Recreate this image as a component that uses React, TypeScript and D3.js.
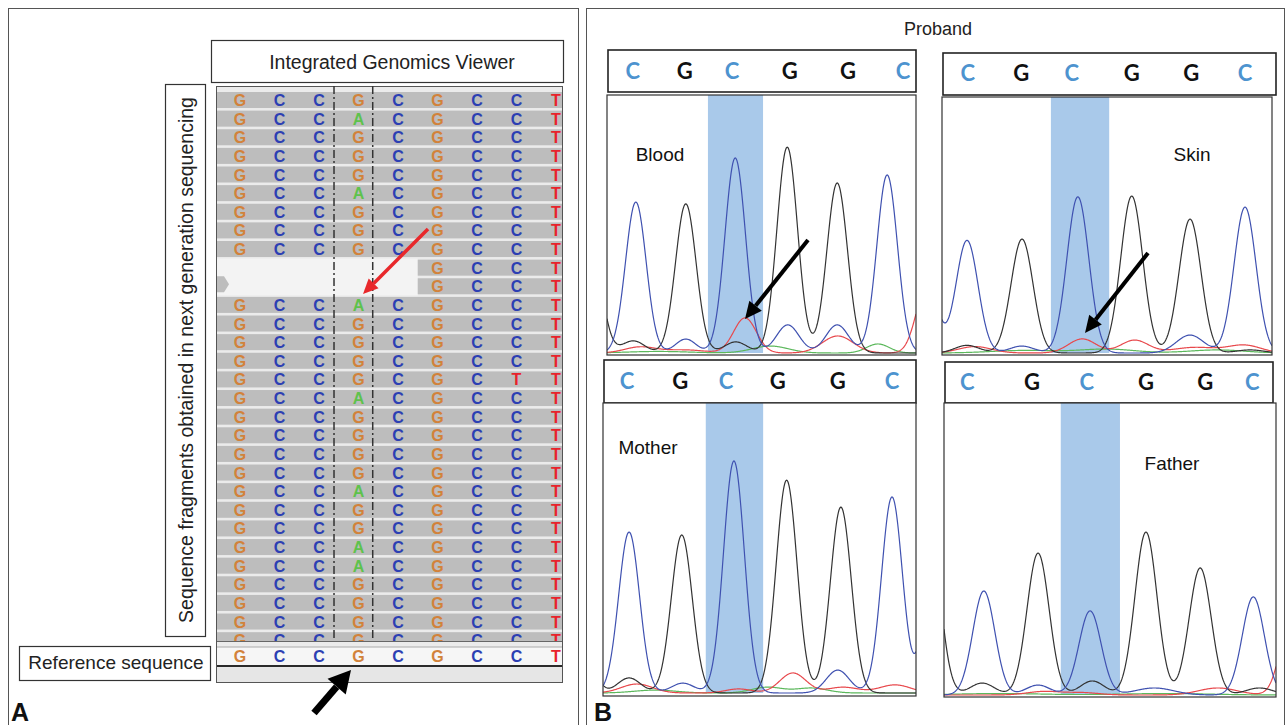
import React from 'react';
import * as d3 from 'd3';

// ---- IGV read pile (9 columns, column 3 is the variant site) ----
const refSeq = ['G', 'C', 'C', 'G', 'C', 'G', 'C', 'C', 'T'];
const siteBases = ['G', 'A', 'G', 'G', 'G', 'A', 'G', 'G', 'G', '', '', 'A', 'G', 'G', 'G', 'G',
  'A', 'G', 'G', 'G', 'G', 'A', 'G', 'G', 'A', 'A', 'G', 'G', 'G', 'G'];
const readStart = [0, 0, 0, 0, 0, 0, 0, 0, 0, 5, 5, 0, 0, 0, 0, 0, 0, 0, 0, 0, 0, 0, 0, 0, 0, 0, 0, 0, 0, 0];
const mismatchRows = [15];
const mismatchCols = [7];
const mismatchBases = ['T'];

// ---- Sanger traces: [position in base units, relative height, width?] ----
const headerBases = ['C', 'G', 'C', 'G', 'G', 'C'];

const bloodC = [[0.56, 0.585], [2.49, 0.756], [5.44, 0.69], [1.53, 0.054], [3.51, 0.109, 0.22], [4.47, 0.109, 0.22]];
const bloodG = [[-0.3, 0.4], [1.53, 0.578], [3.5, 0.798], [4.47, 0.659], [0.51, 0.047, 0.22], [2.5, 0.043, 0.22]];
const bloodT = [[0.64, 0.023, 0.3], [1.5, 0.012, 0.4], [2.68, 0.136, 0.22], [4.48, 0.066, 0.3], [6.2, 0.25]];
const bloodA = [[1.0, 0.006, 0.6], [3.17, 0.027, 0.35], [5.26, 0.035, 0.22]];

const skinC = [[-0.35, 0.45], [0.455, 0.44], [2.47, 0.61], [5.51, 0.57], [1.45, 0.027, 0.22], [4.51, 0.07, 0.25]];
const skinG = [[1.455, 0.445], [3.45, 0.613], [4.51, 0.523], [0.455, 0.03, 0.22], [5.6, 0.012, 0.25]];
const skinT = [[0.6, 0.025, 0.3], [2.55, 0.055, 0.25], [3.5, 0.05, 0.25], [4.6, 0.022, 0.4], [5.5, 0.03, 0.3]];
const skinA = [[1.5, 0.01, 0.6], [3.0, 0.015, 0.5], [5.0, 0.012, 0.5]];

const motherC = [[0.5, 0.555], [2.51, 0.8], [5.54, 0.676], [1.53, 0.034, 0.22], [4.5, 0.079, 0.22], [6.4, 0.7]];
const motherG = [[-0.45, 0.3], [1.51, 0.545], [3.52, 0.734], [4.56, 0.641], [0.5, 0.052, 0.22]];
const motherT = [[0.65, 0.031, 0.3], [2.6, 0.014, 0.25], [3.64, 0.069, 0.25], [4.6, 0.02, 0.3], [5.6, 0.028, 0.3]];
const motherA = [[1.0, 0.01, 0.4], [3.15, 0.02, 0.3], [4.0, 0.017, 0.3]];

const fatherC = [[0.72, 0.356], [2.64, 0.288], [5.59, 0.336], [1.7, 0.034, 0.22], [3.8, 0.024, 0.35]];
const fatherG = [[-0.28, 0.6], [1.7, 0.486], [3.65, 0.558], [4.63, 0.435], [0.69, 0.041, 0.22], [2.68, 0.048, 0.22], [5.7, 0.024, 0.25]];
const fatherT = [[1.8, 0.012, 0.3], [2.5, 0.008, 0.3], [4.95, 0.024, 0.35], [6.3, 0.3]];
const fatherA = [[1.0, 0.005, 0.8], [4.0, 0.005, 0.8]];

const FONT = '"Liberation Sans", Arial, sans-serif';
const baseColor: Record<string, string> = { G: '#d2823a', C: '#2c3fb3', A: '#5ec24c', T: '#e8222b' };
const traceColor = { C: '#3f51b0', G: '#333333', T: '#e8484c', A: '#5cb85c' };
const SIGMA = 0.2;

function head(x1: number, y1: number, x2: number, y2: number, len: number, half: number) {
  const a = Math.atan2(y2 - y1, x2 - x1);
  const bx = x2 - len * Math.cos(a), by = y2 - len * Math.sin(a);
  const px = -Math.sin(a) * half, py = Math.cos(a) * half;
  return { pts: `${x2},${y2} ${bx + px},${by + py} ${bx - px},${by - py}`, bx, by };
}

function Arrow({ x1, y1, x2, y2, color, w, len, half }: any) {
  const h = head(x1, y1, x2, y2, len, half);
  return (
    <g>
      <line x1={x1} y1={y1} x2={h.bx} y2={h.by} stroke={color} strokeWidth={w} />
      <polygon points={h.pts} fill={color} />
    </g>
  );
}

const panels = [
  { id: 'blood', label: 'Blood', lx: 660, ly: 161, box: [607, 95, 916, 355], base: 353, header: [608, 50, 916, 92], letterY: 79,
    letterAt: [0.5, 1.51, 2.43, 3.55, 4.68, 5.75], hl: [1.96, 3.03], arrow: [808, 240, 745, 319],
    C: bloodC, G: bloodG, T: bloodT, A: bloodA },
  { id: 'skin', label: 'Skin', lx: 1192, ly: 161, box: [942, 97, 1272, 355], base: 353, header: [943, 53, 1276, 95], letterY: 81,
    letterAt: [0.47, 1.44, 2.36, 3.45, 4.53, 5.51], hl: [1.98, 3.04], arrow: [1148, 253, 1085, 333],
    C: skinC, G: skinG, T: skinT, A: skinA },
  { id: 'mother', label: 'Mother', lx: 648, ly: 454, box: [603, 403, 916, 696], base: 693, header: [604, 360, 916, 403], letterY: 389,
    letterAt: [0.46, 1.48, 2.36, 3.35, 4.5, 5.54], hl: [1.97, 3.07], arrow: null,
    C: motherC, G: motherG, T: motherT, A: motherA },
  { id: 'father', label: 'Father', lx: 1172, ly: 470, box: [944, 403, 1276, 697], base: 695, header: [945, 362, 1273, 403], letterY: 390,
    letterAt: [0.42, 1.59, 2.58, 3.65, 4.72, 5.57], hl: [2.11, 3.18], arrow: null,
    C: fatherC, G: fatherG, T: fatherT, A: fatherA },
];

function Chromatogram({ p }: any) {
  const [bx0, by0, bx1, by1] = p.box;
  const x = d3.scaleLinear().domain([0, 6]).range([bx0, bx1]);
  const y = d3.scaleLinear().domain([0, 1]).range([p.base, by0]);
  const line = d3.line<[number, number]>().x((d) => x(d[0])).y((d) => y(d[1]));
  const samples = d3.range(0, 6.0001, 0.01);
  const build = (peaks: number[][]) =>
    samples.map((u) => [u, d3.sum(peaks, (k) => k[1] * Math.exp(-((u - k[0]) ** 2) / (2 * (k[2] ?? SIGMA) ** 2)))] as [number, number]);
  const [hx0, hy0, hx1, hy1] = p.header;
  return (
    <g>
      <defs>
        <clipPath id={`clip-${p.id}`}>
          <rect x={bx0} y={by0} width={bx1 - bx0} height={by1 - by0} />
        </clipPath>
      </defs>
      <rect x={hx0} y={hy0} width={hx1 - hx0} height={hy1 - hy0} fill="#fff" stroke="#222" strokeWidth={1.6} />
      {headerBases.map((b, i) => (
        <text key={i} x={x(p.letterAt[i])} y={p.letterY} textAnchor="middle" fontFamily="Lato, sans-serif" fontWeight={700}
          fontSize={22} fill={b === 'C' ? '#4d93cf' : '#111'}>{b}</text>
      ))}
      <rect x={bx0} y={by0} width={bx1 - bx0} height={by1 - by0} fill="#fff" />
      <rect x={x(p.hl[0])} y={by0} width={x(p.hl[1]) - x(p.hl[0])} height={p.base - by0} fill="#a9c9ea" />
      <g clipPath={`url(#clip-${p.id})`} fill="none" strokeWidth={1.2}>
        <path d={line(build(p.A)) || ''} stroke={traceColor.A} />
        <path d={line(build(p.T)) || ''} stroke={traceColor.T} />
        <path d={line(build(p.G)) || ''} stroke={traceColor.G} />
        <path d={line(build(p.C)) || ''} stroke={traceColor.C} />
      </g>
      <rect x={bx0} y={by0} width={bx1 - bx0} height={by1 - by0} fill="none" stroke="#333" strokeWidth={1.2} />
      <text x={p.lx} y={p.ly} textAnchor="middle" fontFamily={FONT} fontSize={19} fill="#111">{p.label}</text>
      {p.arrow && <Arrow x1={p.arrow[0]} y1={p.arrow[1]} x2={p.arrow[2]} y2={p.arrow[3]} color="#000" w={4} len={17} half={8} />}
    </g>
  );
}

function ReadPile() {
  const left = 217, right = 562, top = 86, clipBottom = 641;
  const col = d3.scaleLinear().domain([0, 8]).range([240, 556]);
  const row = d3.scaleBand<number>().domain(d3.range(siteBases.length)).range([92, 92 + siteBases.length * 18.54]).paddingInner(0.14);
  const bw = row.bandwidth();
  const gapStartX = (col(4) + col(5)) / 2;
  return (
    <g fontFamily={FONT} fontWeight={700} fontSize={16} textAnchor="middle">
      <defs>
        <clipPath id="reads-clip">
          <rect x={left} y={top} width={right - left} height={clipBottom - top} />
        </clipPath>
      </defs>
      <rect x={left - 0.5} y={top + 0.5} width={right - left + 1} height={682 - top} fill="#ebebeb" stroke="#555" />
      <rect x={left} y={row(9)! - 1} width={gapStartX - left} height={row(10)! + bw - row(9)! + 2} fill="#f3f3f3" />
      <polygon points={`${left},${row(10)! - 2} ${left + 7},${row(10)! - 2} ${left + 12},${row(10)! + 6} ${left + 7},${row(10)! + 14} ${left},${row(10)! + 14}`} fill="#bdbdbd" />
      <g clipPath="url(#reads-clip)">
        {siteBases.map((_, r) => {
          const x0 = readStart[r] === 0 ? left : gapStartX;
          return <rect key={r} x={x0} y={row(r)} width={right - x0} height={bw} fill="#bdbdbd" />;
        })}
        {siteBases.map((site, r) =>
          refSeq.map((b, c) => {
            if (c < readStart[r]) return null;
            let base = c === 3 ? site : b;
            const mi = mismatchRows.indexOf(r);
            if (mi >= 0 && mismatchCols[mi] === c) base = mismatchBases[mi];
            return (
              <text key={`${r}-${c}`} x={col(c)} y={row(r)! + bw / 2 + 6} fill={baseColor[base]}>{base}</text>
            );
          })
        )}
      </g>
      {[col(2) + (col(3) - col(2)) * 0.38, col(3) + (col(4) - col(3)) * 0.36].map((dx, i) => (
        <line key={i} x1={dx} x2={dx} y1={top} y2={clipBottom} stroke="#333" strokeWidth={1.5} strokeDasharray="8 3 2 3" />
      ))}
      <line x1={left} x2={right} y1={641.5} y2={641.5} stroke="#666" strokeWidth={1.2} />
      <rect x={left} y={647} width={right - left} height={18} fill="#f6f6f6" />
      <line x1={left} x2={right} y1={647} y2={647} stroke="#999" strokeWidth={0.8} />
      {refSeq.map((b, c) => (
        <text key={c} x={col(c)} y={662} fill={baseColor[b]}>{b}</text>
      ))}
      <line x1={left} x2={right} y1={666} y2={666} stroke="#2a2a2a" strokeWidth={2.2} />
      <rect x={left} y={667.5} width={right - left} height={14.5} fill="#e6e6e6" />
    </g>
  );
}

export default function App() {
  return (
    <svg width={1287} height={725} style={{ position: 'absolute', left: 0, top: 0, background: '#fff' }}>
      <rect x={0} y={0} width={1287} height={725} fill="#fff" />
      {/* outer panels */}
      <rect x={8.5} y={8.5} width={570} height={730} fill="none" stroke="#555" />
      <rect x={586.5} y={8.5} width={698} height={730} fill="none" stroke="#555" />

      {/* panel A */}
      <rect x={211.5} y={40.5} width={352} height={42} fill="#fff" stroke="#333" strokeWidth={1.2} />
      <text x={392} y={69} textAnchor="middle" fontFamily={FONT} fontSize={19.5} fill="#222">Integrated Genomics Viewer</text>
      <rect x={165.5} y={84.5} width={40} height={552} fill="#fff" stroke="#333" strokeWidth={1.2} />
      <text transform="translate(192.5,360) rotate(-90)" textAnchor="middle" fontFamily={FONT} fontSize={19.5} fill="#222">
        Sequence fragments obtained in next generation sequencing
      </text>
      <ReadPile />
      <Arrow x1={428} y1={229} x2={363} y2={294} color="#e8282b" w={3.5} len={15} half={7} />
      <rect x={19.5} y={646.5} width={191} height={34} fill="#fff" stroke="#333" strokeWidth={1.2} />
      <text x={116} y={669} textAnchor="middle" fontFamily={FONT} fontSize={19} fill="#222">Reference sequence</text>
      <Arrow x1={314} y1={713} x2={351} y2={670} color="#000" w={7} len={22} half={12} />
      <text x={11} y={721} fontFamily={FONT} fontWeight={700} fontSize={25} fill="#111">A</text>

      {/* panel B */}
      <text x={938} y={35} textAnchor="middle" fontFamily={FONT} fontSize={18} fill="#222">Proband</text>
      {panels.map((p) => <Chromatogram key={p.id} p={p} />)}
      <text x={594} y={721} fontFamily={FONT} fontWeight={700} fontSize={25} fill="#111">B</text>
    </svg>
  );
}
